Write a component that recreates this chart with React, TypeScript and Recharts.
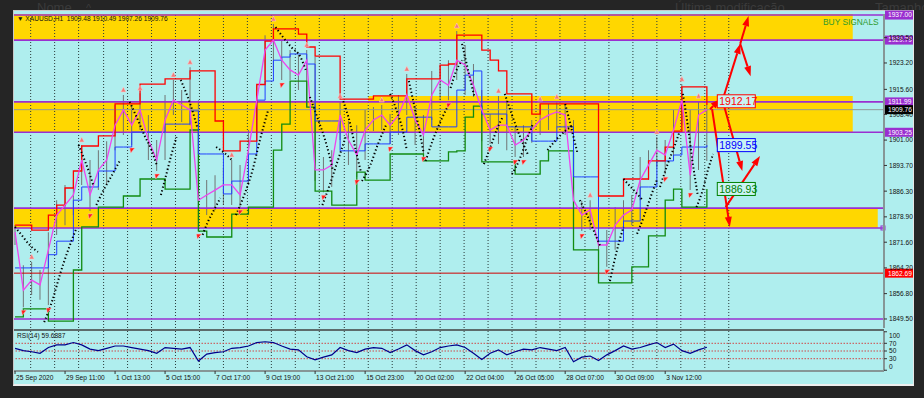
import { ComposedChart, Line, Bar, Scatter, XAxis, YAxis, ReferenceLine, ReferenceArea, ReferenceDot } from 'recharts';

// H1 bars, one sample every 8 bars
const STEP = 8;
const X_MIN = -1;
const X_MAX = 834;
const P_MIN = 1846.9;
const P_MAX = 1937.3;

const closes = [1874.5,1857.8,1860.7,1859.3,1869.4,1879.4,1882.3,1885.2,1895.3,1885.2,
  1892.4,1895.3,1905.3,1909.7,1905.3,1909.7,1901.0,1895.3,1906.8,1912.5,
  1911.1,1909.7,1883.7,1885.2,1886.6,1888.1,1888.1,1885.2,1898.1,1912.5,
  1926.9,1929.8,1924.0,1921.2,1919.7,1924.0,1892.4,1892.4,1893.8,1908.2,
  1901.0,1896.7,1903.9,1906.8,1908.2,1905.3,1908.2,1914.0,1906.8,1902.5,
  1914.0,1918.3,1916.8,1924.0,1922.6,1916.8,1909.7,1903.9,1905.3,1905.3,
  1899.6,1901.0,1903.9,1906.8,1908.2,1909.1,1908.2,1883.7,1879.4,1880.9,
  1870.8,1870.8,1876.5,1879.4,1880.9,1889.5,1893.8,1898.1,1896.7,1903.9,
  1912.5,1890.9,1908.2,1909.76];
const highs = [1876.5,1865.0,1865.9,1863.6,1874.5,1883.7,1888.1,1889.5,1899.6,1895.3,
  1898.1,1900.7,1911.1,1914.0,1911.1,1914.5,1908.2,1901.0,1914.0,1918.3,
  1915.4,1922.0,1912.5,1889.5,1890.9,1893.0,1895.3,1893.8,1903.9,1916.8,
  1931.2,1934.4,1929.8,1926.9,1925.5,1926.9,1924.9,1896.1,1898.1,1912.2,
  1906.5,1905.3,1909.7,1910.5,1911.1,1908.5,1914.0,1920.0,1910.5,1908.2,
  1920.9,1922.6,1924.0,1932.4,1928.4,1922.9,1915.4,1908.5,1913.7,1912.5,
  1904.8,1905.3,1906.8,1911.4,1911.4,1912.0,1911.4,1906.8,1883.5,1883.7,
  1876.5,1875.1,1881.7,1883.7,1885.2,1896.1,1898.1,1901.9,1901.0,1909.7,
  1917.1,1909.7,1912.2,1911.1];
const lows = [1870.8,1852.9,1856.4,1855.0,1853.5,1873.7,1876.5,1879.4,1888.1,1880.6,
  1886.6,1888.1,1898.1,1902.5,1899.6,1903.9,1895.3,1892.1,1895.3,1908.2,
  1906.2,1905.3,1874.8,1879.4,1880.9,1882.3,1882.3,1881.7,1888.1,1906.8,
  1918.3,1921.2,1918.3,1918.3,1915.4,1910.5,1889.2,1886.0,1887.5,1901.0,
  1893.8,1890.4,1895.3,1903.6,1903.9,1899.9,1902.5,1908.2,1899.6,1897.0,
  1906.8,1912.5,1912.5,1918.3,1914.0,1913.4,1900.7,1899.9,1899.9,1898.1,
  1896.1,1896.1,1900.2,1902.5,1903.9,1904.8,1902.5,1876.0,1874.8,1875.1,
  1866.5,1864.5,1869.4,1874.8,1876.5,1883.7,1889.5,1893.2,1891.2,1895.3,
  1905.3,1886.6,1892.4,1895.0];
const upperBand = [1876.5,1876.5,1875.1,1875.1,1879.4,1882.3,1887.2,1892.1,1899.3,1899.3,
  1902.2,1902.2,1911.4,1911.4,1911.4,1917.1,1917.1,1917.1,1918.6,1918.6,
  1918.6,1920.9,1920.9,1920.9,1906.5,1897.9,1897.9,1900.7,1900.7,1917.0,
  1929.5,1933.0,1933.0,1933.0,1931.5,1927.8,1925.2,1925.2,1925.2,1912.8,
  1912.8,1912.8,1912.8,1913.7,1913.7,1913.7,1913.7,1918.6,1918.6,1918.6,
  1918.6,1922.6,1922.9,1931.2,1931.2,1931.2,1926.9,1924.0,1920.9,1914.3,
  1914.3,1914.3,1908.5,1911.4,1911.4,1911.4,1911.4,1911.4,1911.4,1911.4,
  1884.9,1884.9,1884.9,1889.8,1889.8,1889.8,1895.0,1895.0,1899.0,1903.6,
  1916.3,1916.3,1916.3,1911.1];
const middleBand = [1864.2,1864.2,1864.2,1864.2,1868.0,1871.9,1871.9,1883.7,1887.5,1887.5,
  1892.1,1892.1,1899.0,1899.0,1903.3,1903.3,1903.3,1903.3,1905.6,1905.6,
  1905.6,1909.4,1897.0,1897.0,1897.0,1885.5,1889.2,1889.2,1897.0,1912.5,
  1918.0,1924.0,1924.9,1925.8,1925.8,1922.9,1906.5,1906.5,1906.5,1897.9,
  1897.9,1897.9,1899.9,1899.9,1899.9,1903.3,1903.3,1907.6,1907.6,1907.6,
  1904.8,1904.8,1904.8,1915.4,1919.7,1920.9,1908.5,1908.5,1908.5,1904.8,
  1904.8,1904.8,1900.7,1900.7,1900.7,1904.8,1904.8,1890.4,1890.4,1890.4,
  1871.9,1871.9,1871.9,1877.7,1877.7,1887.5,1887.5,1895.0,1895.0,1896.7,
  1899.0,1899.0,1899.0,1899.55];
const lowerBand = [1850.1,1852.4,1852.4,1852.4,1848.9,1848.9,1848.9,1863.6,1876.0,1876.0,
  1881.7,1881.7,1881.7,1884.9,1884.9,1889.8,1889.8,1889.8,1886.9,1886.9,
  1886.9,1903.9,1874.8,1873.1,1873.1,1873.1,1879.7,1879.7,1881.7,1881.7,
  1881.7,1898.1,1905.6,1918.0,1918.0,1910.5,1886.3,1886.3,1882.3,1882.3,
  1882.3,1891.8,1889.5,1889.5,1889.5,1897.0,1897.0,1897.0,1897.0,1895.0,
  1895.0,1895.0,1897.6,1897.9,1907.6,1910.8,1894.7,1894.7,1894.7,1894.7,
  1891.2,1891.2,1891.2,1895.0,1897.9,1897.9,1897.9,1869.4,1869.4,1869.4,
  1859.9,1859.9,1859.9,1859.9,1864.5,1864.5,1873.4,1873.4,1883.7,1886.9,
  1881.7,1881.7,1881.7,1886.93];
const rsiValues = [57,51,48,44,59,66,66,72,66,55,
  51,57,63,63,59,55,51,44,59,57,
  55,59,24,42,46,48,57,59,63,72,
  74,72,63,55,53,35,27,34,40,59,
  51,46,55,59,57,46,55,66,51,40,
  48,59,63,66,59,44,28,44,53,40,
  48,55,53,59,55,51,59,22,34,37,
  25,40,51,63,55,59,66,72,59,68,
  51,44,53,59.69];

// parabolic SAR runs: [bar, price]
const sarSegments: [number, number][][] = [
  [[0,1876.0],[7,1873.4],[14,1870.8],[22,1868.8]],
  [[28,1848.6],[36,1855.0],[43,1862.2],[51,1869.4],[59,1875.7]],
  [[61,1899.6],[66,1895.8],[71,1891.8],[75,1888.1]],
  [[78,1882.3],[85,1886.6],[93,1890.9],[101,1895.3]],
  [[110,1912.0],[117,1907.4],[124,1902.5],[131,1898.1],[136,1893.8]],
  [[140,1885.2],[145,1890.9],[150,1896.7],[155,1901.9]],
  [[159,1918.3],[165,1914.0],[170,1909.7],[175,1904.5]],
  [[180,1873.7],[185,1877.4],[191,1880.9],[197,1884.3]],
  [[193,1899.0],[201,1897.3],[208,1895.3]],
  [[212,1879.4],[220,1885.2],[228,1892.4],[235,1901.0],[243,1909.7]],
  [[250,1933.5],[257,1930.7],[265,1927.8],[274,1924.9],[279,1921.2]],
  [[283,1913.4],[291,1906.8],[299,1899.6],[305,1892.4]],
  [[295,1882.3],[302,1888.1],[310,1895.3],[318,1902.5]],
  [[315,1912.2],[322,1905.3],[327,1898.1],[332,1891.8]],
  [[333,1889.2],[341,1893.8],[348,1899.6],[356,1905.3]],
  [[360,1914.3],[366,1909.7],[372,1903.9],[376,1898.1]],
  [[378,1918.0],[383,1911.1],[388,1903.9],[392,1897.6]],
  [[394,1895.0],[401,1901.0],[409,1906.8],[415,1910.5]],
  [[418,1916.0],[423,1920.6],[429,1924.0]],
  [[429,1928.7],[433,1923.5],[437,1918.3],[441,1913.4]],
  [[450,1894.1],[457,1899.6],[463,1904.5],[468,1907.6]],
  [[470,1914.3],[477,1908.2],[484,1902.5],[492,1897.0]],
  [[477,1891.2],[484,1895.3],[491,1901.0],[497,1905.6]],
  [[511,1898.1],[519,1901.0],[528,1903.6],[536,1905.3]],
  [[528,1911.4],[532,1906.8],[536,1901.9],[540,1897.0]],
  [[542,1883.7],[549,1879.4],[556,1874.5],[562,1870.2]],
  [[571,1860.4],[575,1865.9],[579,1870.8],[584,1876.0]],
  [[584,1889.8],[590,1887.8],[597,1885.5],[603,1883.5]],
  [[597,1874.0],[604,1879.4],[610,1884.6],[616,1889.5]],
  [[619,1887.5],[626,1893.8],[633,1899.3],[638,1903.6]],
  [[641,1914.3],[646,1904.5],[650,1895.3],[655,1885.5]],
  [[654,1881.7],[660,1886.6],[665,1892.4],[670,1897.0]],
];

const timeLabels = ['25 Sep 2020','29 Sep 11:00','1 Oct 13:00','5 Oct 15:00','7 Oct 17:00','9 Oct 19:00',
  '13 Oct 21:00','15 Oct 23:00','20 Oct 02:00','22 Oct 04:00','26 Oct 05:00','28 Oct 07:00','30 Oct 09:00','3 Nov 12:00'];
const timeTicks = [0,48,96,144,192,240,288,336,384,432,480,528,576,624];
const gridBars = [15,38,61,85,108,131,154,177,200,223,246,269,292,316,339,362,385,408,431,454,477,500,523,547,570,593,616,639,662,685];
const priceTicks = [1849.5,1856.8,1864.2,1871.6,1878.9,1886.3,1893.7,1901.0,1908.4,1915.6,1923.2,1930.5];
const rsiTicks = [0,30,50,70,100];
const rsiLevels = [70,50,30];

const levelValues = [1937.00,1929.79,1911.99,1909.76,1903.25,1881.40,1875.70,1862.69,1849.50];
const levelKinds = ['purple','purple','purple','current','purple','plain','end','red','plain'];

const zoneTop = [1937.3,1911.99,1913.7,1881.4];
const zoneBottom = [1929.79,1903.25,1903.25,1875.7];
const zoneFrom = [-1,-1,339,-1];
const zoneTo = [804,339,804,828];

const arrowFrom: [number, number][] = [[667,1909.9],[680,1913.4],[696,1928.7],[696,1928.7],[680,1911.4],[669,1909.9],[682,1881.7]];
const arrowTo: [number, number][] = [[677,1912.8],[696,1928.7],[704,1936.7],[706,1919.4],[698,1892.1],[686,1876.0],[715,1896.4]];

const tagValues = [1912.17,1899.55,1886.93];
const tagColors = ['#ff0000','#0000ff','#008000'];
const TAG_BAR = 674;

const priceData = closes.map((c, i) => ({
  bar: i * STEP, close: c, high: highs[i], low: lows[i],
  upper: upperBand[i], middle: middleBand[i], lower: lowerBand[i],
}));
const rsiData = rsiValues.map((v, i) => ({ bar: i * STEP, rsi: v }));

const upMarks = highs.map((h, i) => ({ bar: i * STEP, mark: h, i }))
  .filter(({ i }) => i > 0 && i < highs.length - 1 && highs[i] >= highs[i - 1] && highs[i] >= highs[i + 1]);
const downMarks = lows.map((l, i) => ({ bar: i * STEP, mark: l, i }))
  .filter(({ i }) => i > 0 && i < lows.length - 1 && lows[i] <= lows[i - 1] && lows[i] <= lows[i + 1]);

const FONT = '"Liberation Sans", Arial, sans-serif';
const CYAN = '#AFEEEE';
const PURPLE = '#9a2fd0';

const boxColor: Record<string, string> = { purple: PURPLE, current: '#000000', red: '#ff0000' };
const lineColor: Record<string, string> = { purple: PURPLE, current: '#8f9a9a', plain: PURPLE, end: PURPLE, red: '#d00000' };

const PriceTick = ({ x, y, payload }: any) => (
  <g>
    <line x1={x} x2={x + 3} y1={y} y2={y} stroke="#333" />
    <text x={x + 5} y={y + 2.4} fontSize={6.6} fontFamily={FONT} fill="#111">{payload.value.toFixed(2)}</text>
  </g>
);

const RsiTick = ({ x, y, payload }: any) => {
  const shift = payload.value === 100 ? 3.5 : payload.value === 0 ? -3.5 : 0;
  return (
    <g>
      <line x1={x} x2={x + 3} y1={y} y2={y} stroke="#333" />
      <text x={x + 5} y={y + 2.4 + shift} fontSize={6.6} fontFamily={FONT} fill="#111">{payload.value}</text>
    </g>
  );
};

const TimeTick = ({ x, y, payload, index }: any) => (
  <g>
    <line x1={x} x2={x} y1={y} y2={y + 3} stroke="#333" />
    <text x={x + 1} y={y + 9} fontSize={6.6} fontFamily={FONT} fill="#111">{timeLabels[index] ?? payload.value}</text>
  </g>
);

const LevelBox = ({ viewBox, text, kind }: any) => {
  if (!viewBox) return null;
  const x = viewBox.x + viewBox.width;
  const y = viewBox.y;
  if (kind === 'end') return <rect x={x - 3} y={y - 2} width={4} height={4} fill="none" stroke={PURPLE} />;
  if (!boxColor[kind]) return null;
  return (
    <g>
      <rect x={x + 1} y={y - 4.5} width={28} height={9} fill={boxColor[kind]} />
      <text x={x + 4} y={y + 2.4} fontSize={6.6} fontFamily={FONT} fill="#fff">{text}</text>
    </g>
  );
};

const ArrowShape = (p: any) => {
  const { x1, y1, x2, y2 } = p;
  if ([x1, y1, x2, y2].some((v) => typeof v !== 'number')) return null;
  const a = Math.atan2(y2 - y1, x2 - x1);
  const L = 10, W = 3.5;
  const bx = x2 - L * Math.cos(a), by = y2 - L * Math.sin(a);
  const pts = `${x2},${y2} ${bx + W * Math.sin(a)},${by - W * Math.cos(a)} ${bx - W * Math.sin(a)},${by + W * Math.cos(a)}`;
  return (
    <g>
      <line x1={x1} y1={y1} x2={bx} y2={by} stroke="#ff0000" strokeWidth={2} />
      <polygon points={pts} fill="#ff0000" />
    </g>
  );
};

const TagShape = ({ cx, cy, text, color }: any) => (
  <g>
    <rect x={cx} y={cy - 6.5} width={38} height={13} fill="#c9f3f3" stroke={color} strokeWidth={1} />
    <text x={cx + 2} y={cy + 3.8} fontSize={10.5} fontFamily={FONT} fill={color}>{text}</text>
  </g>
);

const UpMark = ({ cx, cy }: any) => (
  <polygon points={`${cx - 2.5},${cy - 3} ${cx},${cy - 8} ${cx + 2.5},${cy - 3}`} fill="#f27a7a" stroke="#ffd0d0" strokeWidth={0.5} />
);
const DownMark = ({ cx, cy }: any) => (
  <polygon points={`${cx - 2},${cy + 3} ${cx + 3},${cy + 3} ${cx - 1},${cy + 8}`} fill="#ff1a1a" stroke="#ffc0c0" strokeWidth={0.5} />
);

const behindText = (left: number, text: string, size = 13) => (
  <div style={{ position: 'absolute', left, top: 0, height: 10, overflow: 'hidden' }}>
    <div style={{ fontSize: size, lineHeight: '14px', marginTop: 1, color: '#3b3b3b', whiteSpace: 'pre' }}>{text}</div>
  </div>
);

export default function App() {
  return (
    <div style={{ position: 'absolute', left: 0, top: 0, width: 924, height: 398, background: '#252525', overflow: 'hidden', fontFamily: FONT }}>
      {/* file list behind the terminal window */}
      {behindText(37, 'Nome')}
      {behindText(86, '^', 11)}
      {behindText(675, 'Última modificação')}
      {behindText(875, 'Tamanho')}

      <div style={{ position: 'absolute', left: 13, top: 10, width: 901, height: 376, boxSizing: 'border-box', background: CYAN,
        borderTop: '1px solid #c8c8c8', borderLeft: '1px solid #c8c8c8', borderRight: '1px solid #e6e6e6', borderBottom: '2px solid #eeeeee' }} />

      <div style={{ position: 'absolute', left: 0, top: 0 }}>
        <ComposedChart width={913} height={328} data={priceData} margin={{ top: 14, right: 0, bottom: 0, left: 14 }}>
          <XAxis dataKey="bar" type="number" domain={[X_MIN, X_MAX]} allowDataOverflow hide />
          <YAxis orientation="right" type="number" domain={[P_MIN, P_MAX]} allowDataOverflow ticks={priceTicks} interval={0}
            width={29} tickLine={false} tickSize={0} tickMargin={0} axisLine={{ stroke: '#869696', strokeWidth: 2 }} tick={<PriceTick />} />
          {zoneTop.map((t, i) => (
            <ReferenceArea key={'z' + i} x1={zoneFrom[i]} x2={zoneTo[i]} y1={zoneBottom[i]} y2={t} fill="#FFD700" fillOpacity={1} stroke="none" ifOverflow="hidden" />
          ))}
          {gridBars.map((b) => (
            <ReferenceLine key={'g' + b} x={b} stroke="#2a3a3a" strokeDasharray="1 2" strokeWidth={1} />
          ))}
          {levelValues.map((v, i) => (
            <ReferenceLine key={'l' + i} y={v} stroke={lineColor[levelKinds[i]]} strokeWidth={levelKinds[i] === 'current' || levelKinds[i] === 'red' ? 1 : 1.6}
              ifOverflow="visible" label={<LevelBox text={v.toFixed(2)} kind={levelKinds[i]} />} />
          ))}
          <Bar dataKey={(d: any) => [d.low, d.high]} barSize={3} fill="#6c6c6c" isAnimationActive={false} />
          <Line type="stepAfter" dataKey="lower" stroke="#118a11" strokeWidth={1.3} dot={false} isAnimationActive={false} />
          <Line type="stepAfter" dataKey="middle" stroke="#2040ff" strokeWidth={1} dot={false} isAnimationActive={false} />
          <Line type="stepAfter" dataKey="upper" stroke="#ff0000" strokeWidth={1.3} dot={false} isAnimationActive={false} />
          <Line type="linear" dataKey="close" stroke="#ee44ee" strokeWidth={1.3} dot={false} isAnimationActive={false} />
          {sarSegments.map((seg, i) => (
            <Line key={'s' + i} data={seg.map(([bar, v]) => ({ bar, sar: v }))} type="monotone" dataKey="sar" stroke="#000"
              strokeWidth={2} strokeDasharray="1.3 2.4" dot={false} isAnimationActive={false} />
          ))}
          <Scatter data={upMarks} dataKey="mark" shape={<UpMark />} isAnimationActive={false} />
          <Scatter data={downMarks} dataKey="mark" shape={<DownMark />} isAnimationActive={false} />
          {arrowFrom.map((f, i) => (
            <ReferenceLine key={'a' + i} segment={[{ x: f[0], y: f[1] }, { x: arrowTo[i][0], y: arrowTo[i][1] }]} ifOverflow="visible" shape={ArrowShape} />
          ))}
          {tagValues.map((v, i) => (
            <ReferenceDot key={'t' + i} x={TAG_BAR} y={v} r={0} ifOverflow="visible" shape={<TagShape text={v.toFixed(2)} color={tagColors[i]} />} />
          ))}
        </ComposedChart>
      </div>

      <div style={{ position: 'absolute', left: 14, top: 329, width: 870, height: 2, background: '#5d6c6c' }} />

      <div style={{ position: 'absolute', left: 0, top: 331 }}>
        <ComposedChart width={913} height={55} data={rsiData} margin={{ top: 0, right: 0, bottom: 0, left: 14 }}>
          <XAxis dataKey="bar" type="number" domain={[X_MIN, X_MAX]} allowDataOverflow ticks={timeTicks} interval={0} height={15}
            tickLine={false} tickSize={0} tickMargin={0} axisLine={{ stroke: '#869696', strokeWidth: 2 }} tick={<TimeTick />} />
          <YAxis orientation="right" type="number" domain={[-2, 102]} allowDataOverflow ticks={rsiTicks} interval={0}
            width={29} tickLine={false} tickSize={0} tickMargin={0} axisLine={{ stroke: '#869696', strokeWidth: 2 }} tick={<RsiTick />} />
          {gridBars.map((b) => (
            <ReferenceLine key={'rg' + b} x={b} stroke="#2a3a3a" strokeDasharray="1 2" strokeWidth={1} />
          ))}
          {rsiLevels.map((v) => (
            <ReferenceLine key={'rl' + v} y={v} stroke="#d04848" strokeDasharray="1.5 1.5" strokeWidth={1} />
          ))}
          <Line type="linear" dataKey="rsi" stroke="#00008b" strokeWidth={1.2} dot={false} isAnimationActive={false} />
        </ComposedChart>
      </div>

      <div style={{ position: 'absolute', left: 17, top: 15, fontSize: 6.6, color: '#111', whiteSpace: 'pre' }}>{'\u25BC XAUUSD,H1  1909.48 1910.49 1907.26 1909.76'}</div>
      <div style={{ position: 'absolute', left: 823, top: 17, fontSize: 8.4, color: '#2e9a2e', whiteSpace: 'pre' }}>BUY SIGNALS</div>
      <div style={{ position: 'absolute', left: 17, top: 332, fontSize: 6.6, color: '#111', whiteSpace: 'pre' }}>RSI(14) 59.6887</div>
    </div>
  );
}
